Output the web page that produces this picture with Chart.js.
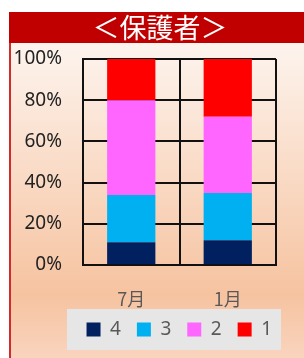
<!DOCTYPE html>
<html>
<head>
<meta charset="utf-8">
<script src="https://cdn.jsdelivr.net/npm/chart.js@4/dist/chart.umd.min.js"></script>
<style>
  html, body { margin: 0; padding: 0; background: #fff; }
  #wrap { width: 304px; height: 358px; }
</style>
</head>
<body>
<div id="wrap"><canvas id="myChart" width="304" height="358"></canvas></div>
<script>
// data (percent of respondents)
var title = '＜保護者＞';
var months = ['7月', '1月'];
var answers = ['4', '3', '2', '1'];
var share4 = [11, 12];
var share3 = [23, 23];
var share2 = [46, 37];
var share1 = [20, 28];

var colors = ['#002060', '#00b0f0', '#ff66ff', '#ff0000'];
var values = [share4, share3, share2, share1];

// background, red frame + title bar, grey legend panel
var backdrop = {
  id: 'backdrop',
  beforeDraw: function (chart) {
    var ctx = chart.ctx;
    var w = chart.width, h = chart.height;
    ctx.save();
    ctx.fillStyle = '#ffffff';
    ctx.fillRect(0, 0, w, h);
    var g = ctx.createLinearGradient(0, 43, 0, h);
    g.addColorStop(0, '#fdf4ee');
    g.addColorStop(0.8, '#f6c3a0');
    g.addColorStop(1, '#f9d4be');
    ctx.fillStyle = g;
    ctx.fillRect(10, 43, w - 10, h - 43);
    ctx.fillStyle = '#d42a2a';
    ctx.fillRect(9, 12, 2, h - 12);
    ctx.fillStyle = '#c00000';
    ctx.fillRect(9, 12, w - 9, 31);
    ctx.fillStyle = '#ffffff';
    ctx.font = '27px "Noto Sans CJK JP"';
    ctx.textAlign = 'center';
    ctx.textBaseline = 'middle';
    ctx.fillText(title, 160, 28);
    var lg = chart.legend;
    if (lg) {
      ctx.fillStyle = '#e6e6e6';
      ctx.fillRect(lg.right - 221, lg.top + 5, 214, lg.bottom - lg.top - 4);
    }
    ctx.restore();
  }
};

var ctx = document.getElementById('myChart').getContext('2d');
var myChart = new Chart(ctx, {
  type: 'bar',
  data: {
    labels: months,
    datasets: answers.map(function (a, i) {
      return {
        label: a,
        data: values[i],
        backgroundColor: colors[i],
        borderWidth: 0,
        barPercentage: 0.5,
        categoryPercentage: 1
      };
    })
  },
  options: {
    responsive: false,
    animation: false,
    layout: { padding: { left: 10, right: 16, top: 59, bottom: 9 } },
    plugins: {
      title: { display: false },
      tooltip: { enabled: false },
      legend: {
        position: 'bottom',
        align: 'end',
        fullSize: true,
        labels: {
          boxWidth: 14,
          boxHeight: 14,
          padding: 16,
          color: '#595959',
          font: { family: 'Noto Sans', size: 19 }
        }
      }
    },
    scales: {
      x: {
        stacked: true,
        grid: { color: '#111', lineWidth: 2, drawTicks: false },
        border: { color: '#111', width: 2 },
        ticks: {
          color: '#595959',
          mirror: true,   // mirror + negative padding: label sits below the axis without being clipped
          padding: -45,
          font: { family: 'Noto Sans CJK JP', size: 18 }
        },
        afterFit: function (s) { s.height = 39; }
      },
      y: {
        stacked: true,
        min: 0,
        max: 100,
        grid: { color: '#111', lineWidth: 2, drawTicks: false },
        border: { color: '#111', width: 2 },
        ticks: {
          stepSize: 20,
          color: '#222',
          padding: 21,
          font: { family: 'Noto Sans', size: 19 },
          callback: function (v) { return v + '%'; }
        },
        afterFit: function (s) { s.width = 73; }
      },
      y2: {
        position: 'right',
        display: true,
        grid: { display: false },
        border: { display: false },
        ticks: { display: false },
        afterFit: function (s) { s.width = 12; }
      }
    }
  },
  plugins: [backdrop]
});
</script>
</body>
</html>
